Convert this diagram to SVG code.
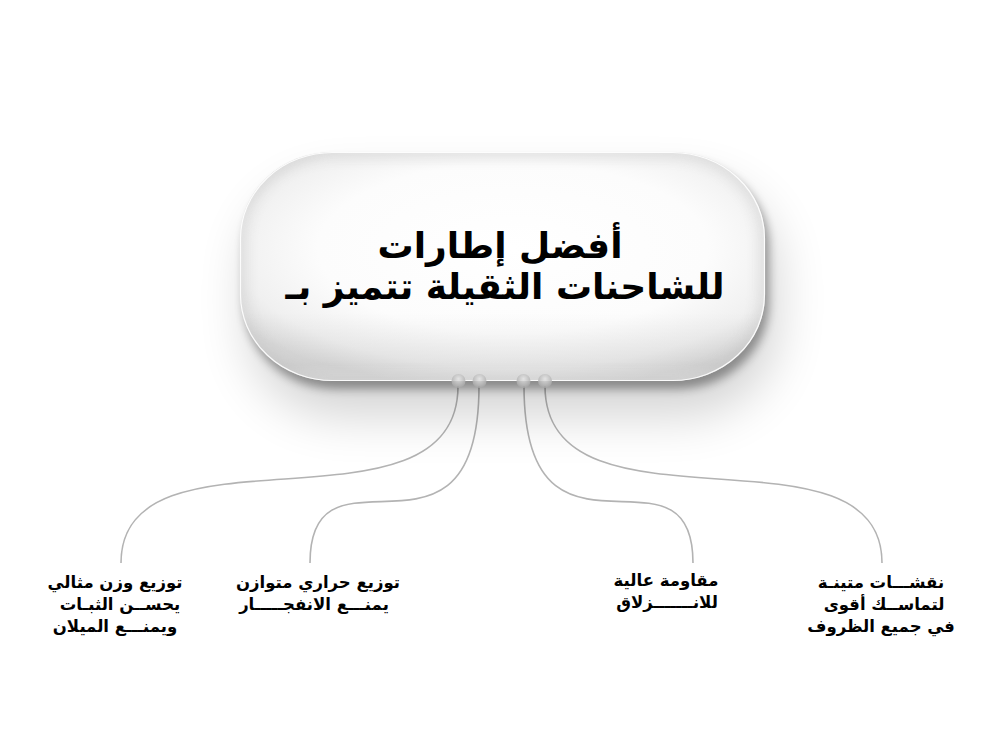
<svg xmlns="http://www.w3.org/2000/svg" width="1000" height="750" viewBox="0 0 1000 750">
  <defs>
    <radialGradient id="pillFill" cx="0.52" cy="0.42" r="0.62">
      <stop offset="0" stop-color="#ffffff"/>
      <stop offset="0.6" stop-color="#fcfcfc"/>
      <stop offset="0.85" stop-color="#f0f0f0"/>
      <stop offset="1" stop-color="#dedede"/>
    </radialGradient>
    <linearGradient id="pillBottom" x1="0" y1="0" x2="0" y2="1">
      <stop offset="0.7" stop-color="#000" stop-opacity="0"/>
      <stop offset="0.93" stop-color="#000" stop-opacity="0.06"/>
      <stop offset="1" stop-color="#000" stop-opacity="0.02"/>
    </linearGradient>
    <radialGradient id="ball" cx="0.5" cy="0.35" r="0.6">
      <stop offset="0" stop-color="#e6e6e6"/>
      <stop offset="1" stop-color="#a9a9a9"/>
    </radialGradient>
    <filter id="softShadow" x="-30%" y="-30%" width="160%" height="190%">
      <feGaussianBlur stdDeviation="26"/>
    </filter>
    <filter id="edgeShadow" x="-10%" y="-10%" width="120%" height="130%">
      <feGaussianBlur stdDeviation="5"/>
    </filter>
    <filter id="innerGlow" x="-5%" y="-5%" width="110%" height="110%">
      <feGaussianBlur stdDeviation="6"/>
    </filter>
    <clipPath id="pillClip">
      <rect x="240" y="152" width="525" height="229" rx="92" ry="86"/>
    </clipPath>
    <style>
      .title { font-family: "DejaVu Sans", "Noto Sans", sans-serif; font-weight: bold; font-size: 36px; fill: #000; text-anchor: middle; }
      .label { font-family: "DejaVu Sans", "Noto Sans", sans-serif; font-weight: bold; font-size: 16.5px; fill: #000; text-anchor: middle; }
      .conn { fill: none; stroke: #b3b3b3; stroke-width: 1.6; }
    </style>
  </defs>

  <rect width="1000" height="750" fill="#ffffff"/>

  <g id="connectors">
    <path class="conn" d="M458,386 C458,545 121,415 121,563"/>
    <path class="conn" d="M479,386 C479,590 310,430 310,563"/>
    <path class="conn" d="M524,386 C524,590 693,430 693,563"/>
    <path class="conn" d="M545,386 C545,545 882,415 882,563"/>
  </g>

  <g id="main-node">
    <rect x="250" y="185" width="525" height="229" rx="92" ry="86" fill="#000" opacity="0.18" filter="url(#softShadow)"/>
    <rect x="244" y="160" width="525" height="229" rx="92" ry="86" fill="#000" opacity="0.35" filter="url(#edgeShadow)"/>
    <rect x="240" y="152" width="525" height="229" rx="92" ry="86" fill="url(#pillFill)"/>
    <g clip-path="url(#pillClip)">
      <rect x="240" y="152" width="525" height="229" rx="92" ry="86" fill="none" stroke="#c9c9c9" stroke-width="14" opacity="0.45" filter="url(#innerGlow)"/>
      <rect x="240" y="152" width="525" height="229" fill="url(#pillBottom)"/>
    </g>
    <rect x="240.5" y="152.5" width="524" height="228" rx="92" ry="86" fill="none" stroke="#ffffff" stroke-width="1.2" opacity="0.9"/>
    <circle cx="458.5" cy="381" r="7" fill="url(#ball)" opacity="0.85"/>
    <circle cx="479.5" cy="381" r="7" fill="url(#ball)" opacity="0.85"/>
    <circle cx="523.5" cy="381" r="7" fill="url(#ball)" opacity="0.85"/>
    <circle cx="545" cy="381" r="7" fill="url(#ball)" opacity="0.85"/>
    <text class="title" x="500" y="258">أفضل إطارات</text>
    <text class="title" x="505" y="299">للشاحنات الثقيلة تتميز بـ</text>
  </g>

  <g id="node-1">
    <text class="label" x="115" y="588">توزيع وزن مثالي</text>
    <text class="label" x="120" y="610">يحســن الثبـات</text>
    <text class="label" x="115" y="632">ويمنـــع الميلان</text>
  </g>

  <g id="node-2">
    <text class="label" x="318" y="588">توزيع حراري متوازن</text>
    <text class="label" x="314" y="610">يمنـــع الانفجـــــار</text>
  </g>

  <g id="node-3">
    <text class="label" x="666" y="586">مقاومة عالية</text>
    <text class="label" x="667" y="608">للانـــــــزلاق</text>
  </g>

  <g id="node-4">
    <text class="label" x="881" y="588">نقشـــات متينـة</text>
    <text class="label" x="884" y="610">لتماســك أقوى</text>
    <text class="label" x="881" y="632">في جميع الظروف</text>
  </g>
</svg>
